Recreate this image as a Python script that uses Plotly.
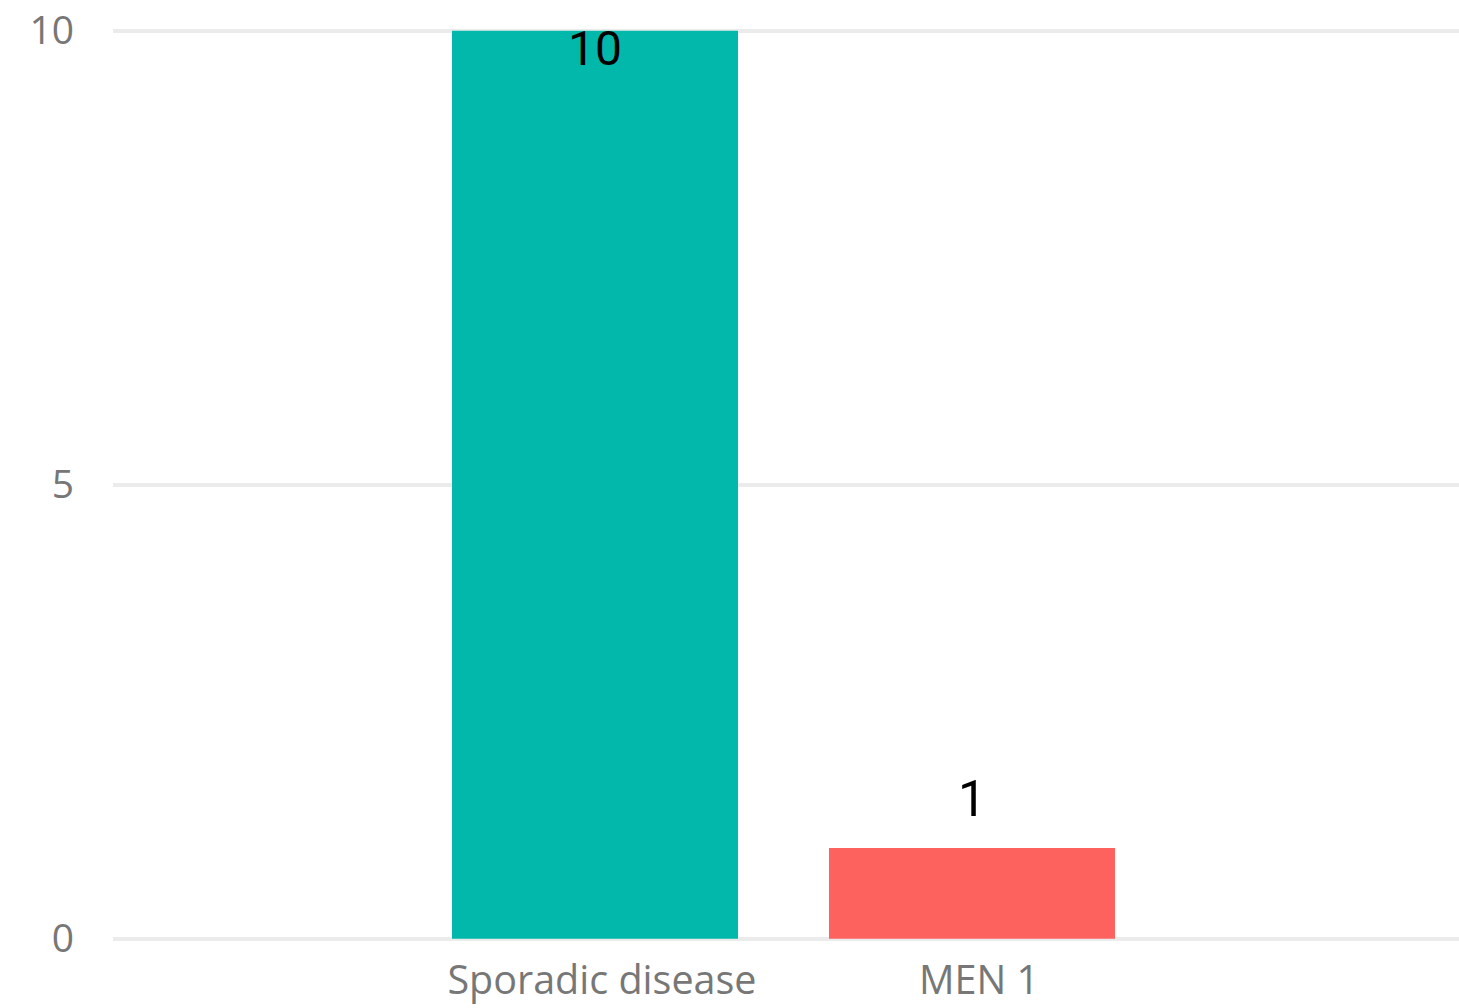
import plotly.graph_objects as go

categories = ["Sporadic disease", "MEN 1"]
values = [10, 1]
colors = ["#01B8AA", "#FD625E"]
y_ticks = [0, 5, 10]

fig = go.Figure()
fig.add_trace(go.Bar(
    x=categories, y=values, marker=dict(color=colors, line=dict(width=0)),
    width=0.7586, hoverinfo="skip",
))

# data labels
for c, v in zip(categories, values):
    if v >= 10:
        fig.add_annotation(x=c, y=v, text=str(v), showarrow=False, yanchor="top",
                           yshift=13, font=dict(family="Roboto", size=48, color="#000000"))
    else:
        fig.add_annotation(x=c, y=v, text=str(v), showarrow=False, yanchor="bottom",
                           yshift=18, font=dict(family="Roboto", size=50, color="#000000"))

fig.update_layout(
    width=1459, height=1008,
    margin=dict(l=113, r=0, t=29, b=67),
    paper_bgcolor="white", plot_bgcolor="white",
    showlegend=False,
    font=dict(family="Open Sans", size=39, color="#777777"),
    xaxis=dict(range=[-1.2785, 2.2918], showgrid=False, zeroline=False, showline=False,
               ticks="", ticklabelstandoff=12, ticklabelshift=7,
               tickfont=dict(size=39.5, color="#777777")),
    yaxis=dict(range=[-0.025, 10.02], tickvals=y_ticks, showgrid=True, gridcolor="#EBEBEB",
               gridwidth=4, zeroline=False, showline=False, ticks="",
               ticklabelstandoff=38, ticklabeloverflow="allow",
               tickfont=dict(size=39, color="#777777")),
)

fig.write_html(
    "out.html",
    config={"displayModeBar": False},
    post_script="document.body.style.margin='0';document.body.style.overflow='hidden';",
)
